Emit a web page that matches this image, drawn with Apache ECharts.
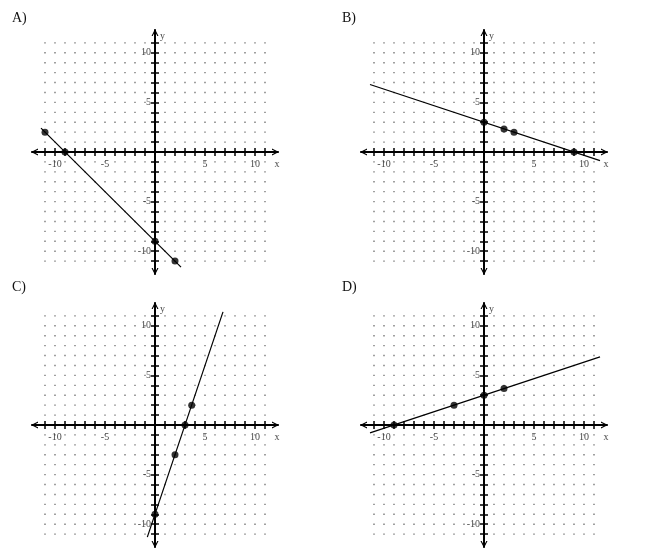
<!DOCTYPE html>
<html><head><meta charset="utf-8">
<script src="https://cdn.jsdelivr.net/npm/echarts@6/dist/echarts.min.js"></script>
<style>html,body{margin:0;padding:0;background:#fff}#c{width:650px;height:551px}</style>
</head><body><div id="c"></div><script>
// ---- data ----
const panelLabels = ['A)', 'B)', 'C)', 'D)'];
const gridValues = [-11,-10,-9,-8,-7,-6,-5,-4,-3,-2,-1,0,1,2,3,4,5,6,7,8,9,10,11];
const tickValues = [-11,-10,-9,-8,-7,-6,-5,-4,-3,-2,-1,1,2,3,4,5,6,7,8,9,10,11];
const labelValues = [-10, -5, 5, 10];
const axisMin = -12.3, axisMax = 12.3;

const lineA = [[-11.4, 2.4], [2.6, -11.6]];
const pointsA = [[-11, 2], [-9, 0], [0, -9], [2, -11]];
const lineB = [[-11.4, 6.8], [11.6, -0.87]];
const pointsB = [[0, 3], [2, 2.33], [3, 2], [9, 0]];
const lineC = [[-0.77, -11.3], [6.8, 11.4]];
const pointsC = [[0, -9], [2, -3], [3, 0], [3.67, 2]];
const lineD = [[-11.4, -0.8], [11.6, 6.87]];
const pointsD = [[-9, 0], [-3, 2], [0, 3], [2, 3.67]];

const lines = [lineA, lineB, lineC, lineD];
const points = [pointsA, pointsB, pointsC, pointsD];

// ---- layout ----
const FONT = '"Liberation Serif", "DejaVu Serif", serif';
const panelBoxes = [
  {left: 32, top: 30, title: [12, 11]},
  {left: 361, top: 30, title: [342, 11]},
  {left: 32, top: 303, title: [12, 280]},
  {left: 361, top: 303, title: [342, 280]}
];
const W = 246, H = 244;

const dotData = [];
gridValues.forEach(x => gridValues.forEach(y => { if (x !== 0 && y !== 0) dotData.push([x, y]); }));
const xLabelData = labelValues.map(v => [v, 0]);
const yLabelData = labelValues.map(v => [0, v]);

const arrowPath = 'path://M0,10 L5,0 L10,10 L8.3,10 L5,3.6 L1.7,10 Z';
const axisLineStyle = {color: '#000', width: 2};
const tickStyle = {color: '#000', width: 1.5};
const textStyle = {fontFamily: FONT, fontSize: 10, color: '#111'};

const grid = [], xAxis = [], yAxis = [], series = [], title = [];
panelBoxes.forEach((p, g) => {
  grid.push({left: p.left, top: p.top, width: W, height: H, containLabel: false});
  title.push({text: panelLabels[g], left: p.title[0], top: p.title[1], padding: 0,
    textStyle: {fontFamily: FONT, fontSize: 14, fontWeight: 'normal', color: '#111'}});
  const xBase = {type: 'value', gridIndex: g, min: axisMin, max: axisMax, splitLine: {show: false}, axisLabel: {show: false}};
  const arrowLine = {show: true, onZero: true, lineStyle: axisLineStyle, symbol: [arrowPath, arrowPath], symbolSize: [10, 7], symbolOffset: [2.5, -2.5]};
  xAxis.push(Object.assign({}, xBase, {
    position: 'bottom',
    axisLine: arrowLine,
    axisTick: {show: true, length: 4, lineStyle: tickStyle, customValues: tickValues}
  }));
  xAxis.push(Object.assign({}, xBase, {
    position: 'top',
    axisLine: {show: false, onZero: true},
    axisTick: {show: true, length: 4, lineStyle: tickStyle, customValues: tickValues}
  }));
  const yBase = {type: 'value', gridIndex: g, min: axisMin, max: axisMax, splitLine: {show: false}, axisLabel: {show: false}};
  yAxis.push(Object.assign({}, yBase, {
    position: 'left',
    axisLine: arrowLine,
    axisTick: {show: true, length: 4, lineStyle: tickStyle, customValues: tickValues}
  }));
  yAxis.push(Object.assign({}, yBase, {
    position: 'right',
    axisLine: {show: false, onZero: true},
    axisTick: {show: true, length: 4, lineStyle: tickStyle, customValues: tickValues}
  }));
  const xi = 2 * g, yi = 2 * g;
  series.push({type: 'scatter', xAxisIndex: xi, yAxisIndex: yi, data: dotData, symbol: 'rect', symbolSize: 1.4,
    itemStyle: {color: '#555'}, silent: true, z: 1});
  // tick labels
  series.push({type: 'scatter', xAxisIndex: xi, yAxisIndex: yi, data: xLabelData, symbolSize: 0, silent: true, z: 7,
    label: Object.assign({show: true, position: 'bottom', distance: 7, formatter: d => String(d.value[0])}, textStyle)});
  series.push({type: 'scatter', xAxisIndex: xi, yAxisIndex: yi, data: yLabelData, symbolSize: 0, silent: true, z: 7,
    label: Object.assign({show: true, position: 'left', distance: 4, formatter: d => String(d.value[1])}, textStyle)});
  // axis names
  series.push({type: 'scatter', xAxisIndex: xi, yAxisIndex: yi, data: [[axisMax, 0]], symbolSize: 0, silent: true, z: 7,
    label: Object.assign({show: true, position: 'bottom', distance: 7, offset: [-1, 0], formatter: 'x'}, textStyle)});
  series.push({type: 'scatter', xAxisIndex: xi, yAxisIndex: yi, data: [[0, axisMax]], symbolSize: 0, silent: true, z: 7,
    label: Object.assign({show: true, position: 'right', distance: 5, offset: [0, 6], formatter: 'y'}, textStyle)});
  series.push({type: 'line', xAxisIndex: xi, yAxisIndex: yi, data: lines[g], showSymbol: false, symbol: 'none',
    lineStyle: {color: '#000', width: 1.2}, silent: true, z: 5});
  series.push({type: 'scatter', xAxisIndex: xi, yAxisIndex: yi, data: points[g], symbolSize: 7,
    itemStyle: {color: '#000'}, silent: true, z: 6});
});

const chart = echarts.init(document.getElementById('c'), null, {renderer: 'canvas'});
chart.setOption({animation: false, backgroundColor: '#fff', title, grid, xAxis, yAxis, series});
</script></body></html>
